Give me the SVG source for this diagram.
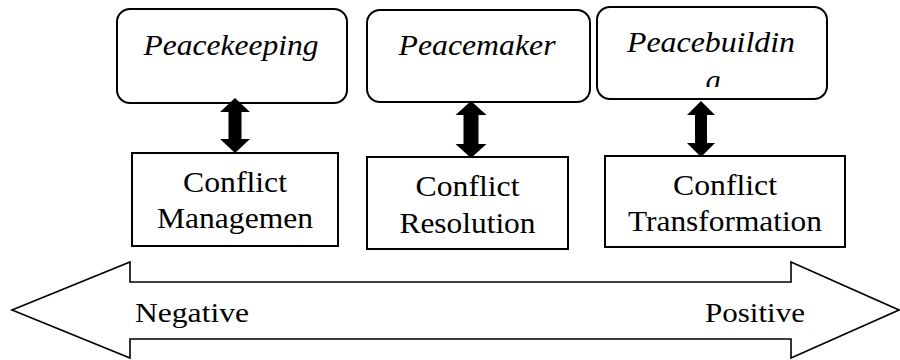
<svg xmlns="http://www.w3.org/2000/svg" width="900" height="360" viewBox="0 0 900 360">
<defs>
<style>
.rbox{fill:#fff;stroke:#000;stroke-width:2}
.box{fill:#fff;stroke:#000;stroke-width:2}
.it{font-style:italic;font-size:30px;fill:#000;text-anchor:middle}
.tx{font-size:30px;fill:#000;text-anchor:middle}
.lb{font-size:28px;fill:#000}
.dbl{fill:#000;stroke:none}
</style>
<clipPath id="clipG"><rect x="690" y="60" width="50" height="27"/></clipPath>
</defs>
<rect width="900" height="360" fill="#fff"/>
<g font-family="Liberation Serif, Times New Roman, serif">
<g id="scale">
<polygon points="12,310 130,262 130,282 791,282 791,262 899,310 791,358 791,339 130,339 130,358" fill="#fff" stroke="#000" stroke-width="1.6"/>
<text class="lb" x="135" y="322" textLength="114" lengthAdjust="spacingAndGlyphs">Negative</text>
<text class="lb" x="705" y="322" textLength="100" lengthAdjust="spacingAndGlyphs">Positive</text>
</g>
<g id="peacekeeping">
<rect class="rbox" x="117" y="9" width="230" height="94" rx="13"/>
<text class="it" x="231" y="55" textLength="175" lengthAdjust="spacingAndGlyphs">Peacekeeping</text>
</g>
<g id="peacemaker">
<rect class="rbox" x="367" y="10" width="223" height="92" rx="13"/>
<text class="it" x="477" y="55" textLength="157" lengthAdjust="spacingAndGlyphs">Peacemaker</text>
</g>
<g id="peacebuilding">
<rect class="rbox" x="597" y="7" width="230" height="92" rx="13"/>
<text class="it" x="711" y="52" textLength="168" lengthAdjust="spacingAndGlyphs">Peacebuildin</text>
<text class="it" x="713" y="90" clip-path="url(#clipG)">g</text>
</g>
<g id="management">
<rect class="box" x="132" y="153" width="206" height="93"/>
<text class="tx" x="235" y="192" textLength="104" lengthAdjust="spacingAndGlyphs">Conflict</text>
<text class="tx" x="235" y="228" textLength="156" lengthAdjust="spacingAndGlyphs">Managemen</text>
</g>
<g id="resolution">
<rect class="box" x="367" y="157" width="201" height="92"/>
<text class="tx" x="467.5" y="196" textLength="104" lengthAdjust="spacingAndGlyphs">Conflict</text>
<text class="tx" x="467.5" y="233" textLength="136" lengthAdjust="spacingAndGlyphs">Resolution</text>
</g>
<g id="transformation">
<rect class="box" x="605" y="156" width="240" height="91"/>
<text class="tx" x="725" y="195" textLength="104" lengthAdjust="spacingAndGlyphs">Conflict</text>
<text class="tx" x="725" y="231" textLength="194" lengthAdjust="spacingAndGlyphs">Transformation</text>
</g>
</g>
<g id="connectors">
<polygon class="dbl" points="235,98 250,112 241.5,112 241.5,139 250,139 235,153 220,139 228.5,139 228.5,112 220,112"/>
<polygon class="dbl" points="471,101 486.5,115 478.5,115 478.5,144 486.5,144 471,158 455.5,144 463.5,144 463.5,115 455.5,115"/>
<polygon class="dbl" points="701,101 715,115 707,115 707,143 715,143 701,157 687,143 695,143 695,115 687,115"/>
</g>
</svg>
